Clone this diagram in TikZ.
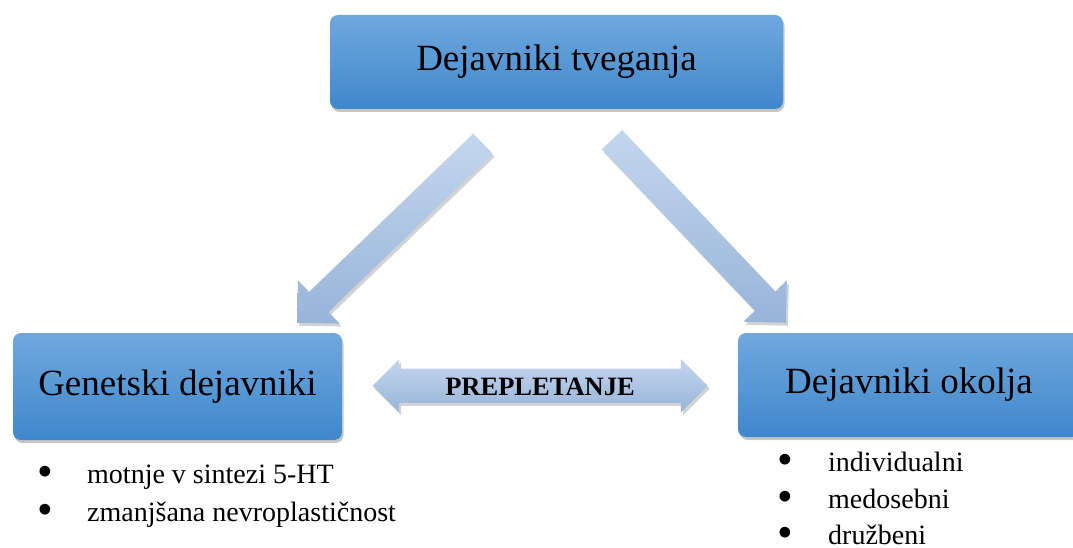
\documentclass[tikz,border=0pt]{standalone}
\usepackage{fontspec}
\setmainfont{Liberation Serif}
\usetikzlibrary{calc,positioning,shapes.arrows,shadows}
\definecolor{boxtop}{HTML}{70A8DE}
\definecolor{boxbot}{HTML}{3F87CB}
\definecolor{arrtop}{HTML}{C4D6EE}
\definecolor{arrbot}{HTML}{98B4D9}
\newcommand\dotitem[1]{\makebox[#1][l]{\raisebox{-3.5pt}[0pt][0pt]{\scalebox{1.6}{\textbullet}}}}

\begin{document}
\begin{tikzpicture}[x=1pt,y=-1pt,
    factor/.style={rectangle,rounded corners=8pt,top color=boxtop,bottom color=boxbot,
      drop shadow={shadow xshift=1.5pt,shadow yshift=-3pt,opacity=0.45},
      font=\fontsize{37}{44}\selectfont},
    fat/.style={top color=arrtop,bottom color=arrbot,
      drop shadow={shadow xshift=2pt,shadow yshift=-3pt,opacity=0.35}},
    item/.style={anchor=base west,inner sep=0pt,font=\fontsize{28}{34}\selectfont}]
  \useasboundingbox (0,0) rectangle (1073,548);
  % the three boxes
  \node[factor,minimum width=453pt,minimum height=94pt] (risk) at (556.5,62) {Dejavniki tveganja};
  \node[factor,minimum width=329pt,minimum height=107pt] (gen) at (177.5,386.5) {Genetski dejavniki};
  \node[factor,minimum width=342pt,minimum height=104pt] (env) at (909,385) {Dejavniki okolja};
  % double arrow between the lower boxes
  \node[double arrow,fat,double arrow head extend=9.5pt,minimum height=335pt,
    inner ysep=0pt,text height=27pt,text depth=7pt,
    font=\fontsize{26.5}{30}\selectfont\bfseries] (mix) at ($(gen.east)!0.5!(env.west)$) {PREPLETANJE};
  % block arrows from the top box
  \coordinate (t1) at ($(risk.south)+(-73.5,34.5)$);
  \coordinate (p1) at ($(gen.north east)+(-45,-10)$);
  \coordinate (h1) at ($(p1)!30pt!(t1)$);
  \path[fat] ($(t1)!14pt!90:(p1)$) -- ($(h1)!14pt!90:(p1)$) -- ($(h1)!30pt!90:(p1)$) -- (p1)
    -- ($(h1)!30pt!-90:(p1)$) -- ($(h1)!14pt!-90:(p1)$) -- ($(t1)!14pt!-90:(p1)$) -- cycle;
  \coordinate (t2) at ($(risk.south)+(55.5,30.5)$);
  \coordinate (p2) at ($(env.north west)+(48,-10)$);
  \coordinate (h2) at ($(p2)!30pt!(t2)$);
  \path[fat] ($(t2)!14pt!90:(p2)$) -- ($(h2)!14pt!90:(p2)$) -- ($(h2)!30pt!90:(p2)$) -- (p2)
    -- ($(h2)!30pt!-90:(p2)$) -- ($(h2)!14pt!-90:(p2)$) -- ($(t2)!14pt!-90:(p2)$) -- cycle;
  % lists
  \node[item] (g1) at (37,483) {\dotitem{50pt}motnje v sintezi 5-HT};
  \node[item] (g2) at (37,521) {\dotitem{50pt}zmanjšana nevroplastičnost};
  \node[item] (e1) at (777,471) {\dotitem{51pt}individualni};
  \node[item] (e2) at (777,508) {\dotitem{51pt}medosebni};
  \node[item] (e3) at (777,544) {\dotitem{51pt}družbeni};
\end{tikzpicture}
\end{document}
